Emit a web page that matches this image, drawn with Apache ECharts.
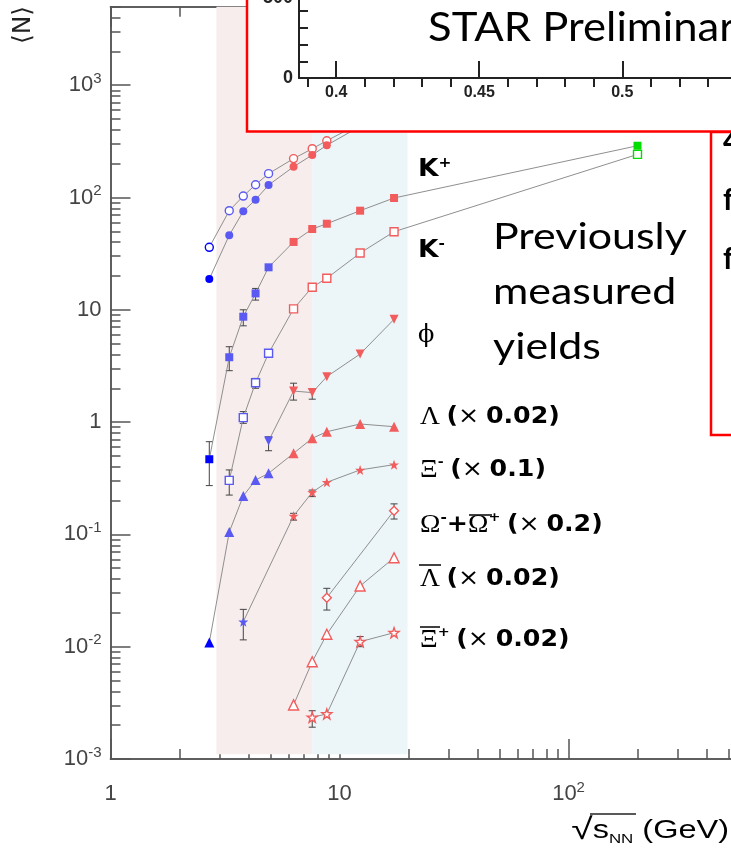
<!DOCTYPE html>
<html>
<head>
<meta charset="utf-8">
<script src="https://cdn.jsdelivr.net/npm/echarts@6/dist/echarts.min.js"></script>
<style>html,body{margin:0;padding:0;background:#fff}#c{width:731px;height:858px}</style>
</head>
<body>
<div id="c"></div>
<script>
// ---------------- data ----------------
const energies = [2.7, 3.3, 3.8, 4.3, 4.9, 6.3, 7.6, 8.8, 12.3, 17.3, 200];
const pointGroup = [0, 1, 1, 1, 1, 2, 2, 2, 2, 2, 3]; // AGS-low, AGS, SPS, RHIC
const piOpen    = [36.0, 76.3, 103, 130, 163, 222, 272, 320, 460, 620, null];
const piFilled  = [18.8, 46.1, 75.4, 95.6, 129, 188, 239, 292, 430, 580, null];
const kPlus     = [0.467, 3.78, 8.68, 14.0, 23.9, 40.2, 52.4, 58.4, 76.3, 99, 289];
const kMinus    = [null, 0.303, 1.095, 2.24, 4.10, 10.2, 15.9, 19.1, 32.0, 49.6, 242];
const phi       = [null, null, null, null, 0.679, 1.89, 1.83, 2.54, 4.04, 8.23, null];
const lambda    = [0.0109, 0.105, 0.22, 0.305, 0.35, 0.527, 0.717, 0.821, 0.962, 0.91, null];
const xiMinus   = [null, null, 0.0167, null, null, 0.146, 0.237, 0.291, 0.375, 0.418, null];
const omega     = [null, null, null, null, null, null, null, 0.0273, null, 0.1626, null];
const lambdaBar = [null, null, null, null, null, 0.00303, 0.00735, 0.0129, 0.0347, 0.062, null];
const xiBarPlus = [null, null, null, null, null, null, 0.00235, 0.00252, 0.01108, 0.01333, null];

// error bars: energy, low, high
const errEnergy = [2.7, 3.3, 3.8, 4.3, 3.3, 3.8, 4.3, 4.9, 6.3, 7.6, 3.8, 6.3, 7.6, 8.8, 17.3, 7.6, 12.3];
const errLow    = [0.272, 2.87, 7.2, 12.2, 0.224, 0.975, 2.0, 0.556, 1.57, 1.6, 0.0115, 0.134, 0.217, 0.0212, 0.137, 0.00192, 0.0100];
const errHigh   = [0.669, 4.69, 10.0, 15.5, 0.375, 1.24, 2.45, 0.741, 2.22, 1.96, 0.0215, 0.154, 0.248, 0.0331, 0.187, 0.00269, 0.0123];

// shaded energy bands
const bandEdges = [2.9, 7.6, 19.8];
const bandYRange = [0.0011, 5000];

// tick values
const xTickMajor = [1, 10, 100];
const xTickMinor = [2, 3, 4, 5, 6, 7, 8, 9, 20, 30, 40, 50, 60, 70, 80, 90, 200, 300, 400, 500];
const yTickMajor = [0.001, 0.01, 0.1, 1, 10, 100, 1000];
const yTickMinor = [];
[0.001, 0.01, 0.1, 1, 10, 100, 1000].forEach(d => { for (let k = 2; k <= 9; k++) { const v = +(d * k).toPrecision(3); if (v <= 5000) yTickMinor.push(v); } });

// inset (STAR preliminary panel)
const insetXLabels = [0.4, 0.45, 0.5];
const insetXMinor = [0.39, 0.41, 0.42, 0.43, 0.44, 0.46, 0.47, 0.48, 0.49, 0.51, 0.52, 0.53];
const insetYLabels = [0];
const insetYTicks = [100, 200, 300, 400];

// ---------------- chart ----------------
const palette = ['#0000ff', '#5a5af2', '#f25c5c', '#00dd00'];
const axisCol = '#555';
const labelCol = '#444';

function makeSeries(name, vals, symbol, open, size, rotate) {
  const data = [];
  energies.forEach((e, i) => {
    if (vals[i] == null) return;
    const c = palette[pointGroup[i]];
    data.push({
      value: [e, vals[i]],
      itemStyle: open ? { color: '#fff', borderColor: c, borderWidth: 1.4 } : { color: c, borderColor: c, borderWidth: 0 }
    });
  });
  return {
    type: 'line', name, xAxisIndex: 0, yAxisIndex: 0, z: 3,
    symbol, symbolSize: size, symbolRotate: rotate || 0, showAllSymbol: true,
    lineStyle: { color: '#8f8f8f', width: 1 },
    data, silent: true, emphasis: { disabled: true }
  };
}
const star = 'path://M0,-10 L2.35,-3.24 L9.51,-3.09 L3.8,1.24 L5.88,8.09 L0,4 L-5.88,8.09 L-3.8,1.24 L-9.51,-3.09 L-2.35,-3.24 Z';

const supFmt = (v) => {
  const e = Math.round(Math.log10(v));
  if (e === 0) return '{n|1}';
  if (e === 1) return '{n|10}';
  return '{n|10}{sup|' + e + '}';
};
const tickRich = {
  n: { fontSize: 22, fontFamily: 'Liberation Sans', color: labelCol, lineHeight: 28 },
  sup: { fontSize: 15, fontFamily: 'Liberation Sans', color: labelCol, lineHeight: 15, verticalAlign: 'top' }
};

function logX(pos, ticks, len, labels) {
  return {
    type: 'log', gridIndex: 0, position: pos, min: 1, max: 512, logBase: 10,
    axisLine: { show: true, onZero: false, lineStyle: { color: axisCol, width: 1.5 } },
    axisTick: { show: true, inside: true, length: len, customValues: ticks, lineStyle: { color: axisCol, width: 1.5 } },
    axisLabel: labels ? { show: true, customValues: labels, formatter: supFmt, rich: tickRich, margin: 21 } : { show: false },
    splitLine: { show: false }, minorTick: { show: false }
  };
}
function logY(pos, ticks, len, labels) {
  return {
    type: 'log', gridIndex: 0, position: pos, min: 0.001, max: 5000, logBase: 10,
    axisLine: { show: true, onZero: false, lineStyle: { color: axisCol, width: 1.5 } },
    axisTick: { show: true, inside: true, length: len, customValues: ticks, lineStyle: { color: axisCol, width: 1.5 } },
    axisLabel: labels ? { show: true, customValues: labels, formatter: supFmt, rich: tickRich, margin: 9 } : { show: false },
    splitLine: { show: false }, minorTick: { show: false }
  };
}

const insetAxisStyle = { color: '#222', width: 2 };
const xAxes = [
  logX('bottom', xTickMajor, 20, xTickMajor),
  logX('bottom', xTickMinor, 10, null),
  logX('top', xTickMajor, 20, null),
  logX('top', xTickMinor, 10, null),
  { type: 'value', gridIndex: 1, min: 0.387, max: 0.538, z: 110,
    axisLine: { onZero: false, lineStyle: insetAxisStyle },
    axisTick: { inside: true, length: 17, customValues: insetXLabels, lineStyle: insetAxisStyle },
    axisLabel: { customValues: insetXLabels, fontFamily: 'Liberation Sans', fontWeight: 'bold', fontSize: 16, color: '#222', margin: 7 },
    splitLine: { show: false } },
  { type: 'value', gridIndex: 1, min: 0.387, max: 0.538, z: 110,
    axisLine: { show: false },
    axisTick: { inside: true, length: 9, customValues: insetXMinor, lineStyle: insetAxisStyle },
    axisLabel: { show: false }, splitLine: { show: false } }
];
const yAxes = [
  logY('left', yTickMajor, 20, yTickMajor),
  logY('left', yTickMinor, 10, null),
  { type: 'value', gridIndex: 1, min: 0, max: 467, z: 110,
    axisLine: { onZero: false, lineStyle: insetAxisStyle },
    axisTick: { inside: true, length: 9, customValues: insetYTicks, lineStyle: insetAxisStyle },
    axisLabel: { customValues: insetYLabels, fontFamily: 'Liberation Sans', fontWeight: 'bold', fontSize: 18, color: '#222', margin: 6 },
    splitLine: { show: false } }
];

const bandData = [
  [bandEdges[0], bandEdges[1], bandYRange[0], bandYRange[1], 0],
  [bandEdges[1], bandEdges[2], bandYRange[0], bandYRange[1], 1]
];
const bandColors = ['#f7eded', '#ecf5f8'];

const errData = errEnergy.map((e, i) => [e, errLow[i], errHigh[i]]);

const series = [
  { type: 'custom', xAxisIndex: 0, yAxisIndex: 0, z: 1, silent: true, data: bandData,
    encode: { x: [0, 1], y: [2, 3] },
    renderItem: (params, api) => {
      const p0 = api.coord([api.value(0), api.value(3)]);
      const p1 = api.coord([api.value(1), api.value(2)]);
      return { type: 'rect', shape: { x: p0[0], y: p0[1], width: p1[0] - p0[0], height: p1[1] - p0[1] },
        style: { fill: bandColors[api.value(4)] } };
    } },
  { type: 'custom', xAxisIndex: 0, yAxisIndex: 0, z: 2, silent: true, data: errData,
    encode: { x: 0, y: [1, 2] },
    renderItem: (params, api) => {
      const a = api.coord([api.value(0), api.value(1)]);
      const b = api.coord([api.value(0), api.value(2)]);
      const w = 3.5, st = { stroke: '#444', lineWidth: 1 };
      return { type: 'group', children: [
        { type: 'line', shape: { x1: a[0], y1: a[1], x2: b[0], y2: b[1] }, style: st },
        { type: 'line', shape: { x1: a[0] - w, y1: a[1], x2: a[0] + w, y2: a[1] }, style: st },
        { type: 'line', shape: { x1: b[0] - w, y1: b[1], x2: b[0] + w, y2: b[1] }, style: st }
      ] };
    } },
  makeSeries('pi_open', piOpen, 'circle', true, 8),
  makeSeries('pi_filled', piFilled, 'circle', false, 8),
  makeSeries('K+', kPlus, 'rect', false, 8),
  makeSeries('K-', kMinus, 'rect', true, 8),
  makeSeries('phi', phi, 'triangle', false, 9, 180),
  makeSeries('Lambda', lambda, 'triangle', false, 10),
  makeSeries('Xi-', xiMinus, star, false, 10),
  makeSeries('Omega', omega, 'diamond', true, 9),
  makeSeries('LambdaBar', lambdaBar, 'triangle', true, 10),
  makeSeries('XiBar+', xiBarPlus, star, true, 10)
];

// label styles
const R = {
  b: { fontFamily: 'DejaVu Sans', fontWeight: 'bold', fontSize: 24, color: '#111' },
  bs: { fontFamily: 'DejaVu Sans', fontWeight: 'bold', fontSize: 14, color: '#111', verticalAlign: 'top', lineHeight: 14 },
  g: { fontFamily: 'Liberation Serif', fontSize: 25, color: '#222', padding: [0, 6, 0, 0] },
  g0: { fontFamily: 'Liberation Serif', fontSize: 25, color: '#222' },
  ph: { fontFamily: 'DejaVu Serif', fontSize: 24, color: '#222' },
  gs: { fontFamily: 'DejaVu Sans', fontWeight: 'bold', fontSize: 13, color: '#111', verticalAlign: 'top', lineHeight: 13, padding: [0, 6, 0, 0] },
  d: { fontFamily: 'DejaVu Sans', fontWeight: 'bold', fontSize: 23, color: '#111' },
  m: { fontFamily: 'DejaVu Sans', fontSize: 23, color: '#111', padding: [0, 6, 0, 0] }
};
function lab(text, x, y, sx) {
  return { type: 'text', x, y, z: 50, silent: true, scaleX: sx || 1.1,
    style: { text, rich: R, textVerticalAlign: 'middle', textAlign: 'left', lineHeight: 28 } };
}
function seg(x1, y1, x2, y2, w, col, z) {
  return { type: 'line', z: z || 50, silent: true, shape: { x1, y1, x2, y2 }, style: { stroke: col || '#111', lineWidth: w || 1.6 } };
}

const graphics = [
  // y-axis title
  { type: 'text', x: 23, y: 25, rotation: Math.PI / 2, z: 50, silent: true,
    style: { text: '⟨N⟩', font: '25px "DejaVu Sans"', fill: '#222', textAlign: 'center', textVerticalAlign: 'middle' } },
  // x-axis title
  { type: 'text', x: 729, y: 831, z: 50, silent: true, scaleX: 1.3,
    style: { text: '{r|√}{s|s}{sub|NN}{t| (GeV)}', textAlign: 'right', textVerticalAlign: 'middle',
      rich: {
        r: { fontFamily: 'Liberation Sans', fontSize: 30, color: '#222' },
        s: { fontFamily: 'Liberation Sans', fontSize: 25, color: '#222' },
        sub: { fontFamily: 'Liberation Sans', fontSize: 13, color: '#222', verticalAlign: 'bottom', lineHeight: 13 },
        t: { fontFamily: 'Liberation Sans', fontSize: 25, color: '#222' }
      } } },
  seg(590, 814, 636, 814, 1.6, '#222'),
  // species labels
  lab('{b|K}{bs|+}', 418, 170),
  lab('{b|K}{bs|-}', 418, 251),
  lab('{ph|ϕ}', 418, 336, 1),
  lab('{g|Λ}{d|(}{m|×}{d|0.02)}', 420, 417),
  lab('{g0|Ξ}{gs|-}{d|(}{m|×}{d|0.1)}', 420, 470),
  lab('{g0|Ω}{bs|-}{d|+}{g0|Ω}{gs|+}{d|(}{m|×}{d|0.2)}', 420, 525),
  lab('{g|Λ}{d|(}{m|×}{d|0.02)}', 420, 579),
  lab('{g0|Ξ}{gs|+}{d|(}{m|×}{d|0.02)}', 420, 640),
  seg(419, 565, 441, 565),
  seg(420, 627, 440, 627),
  seg(469, 515, 492, 515),
  // annotation
  { type: 'text', x: 493, y: 210, z: 50, silent: true, scaleX: 1.16,
    style: { text: 'Previously\nmeasured\nyields', font: '37px Lato', fill: '#000', lineHeight: 55, textAlign: 'left', textVerticalAlign: 'top' } },
  // right partial box
  { type: 'rect', z: 100, silent: true, shape: { x: 711, y: 132, width: 40, height: 303 },
    style: { fill: '#fff', stroke: '#ff0000', lineWidth: 2.5 } },
  { type: 'text', x: 723, y: 141, z: 101, silent: true, style: { text: '4', font: 'bold 30px Lato', fill: '#000', textVerticalAlign: 'middle' } },
  { type: 'text', x: 723, y: 200, z: 101, silent: true, style: { text: 'f', font: 'bold 30px Lato', fill: '#000', textVerticalAlign: 'middle' } },
  { type: 'text', x: 723, y: 259, z: 101, silent: true, style: { text: 'f', font: 'bold 30px Lato', fill: '#000', textVerticalAlign: 'middle' } },
  // top inset box
  { type: 'rect', z: 102, silent: true, shape: { x: 247, y: -5, width: 520, height: 136.5 },
    style: { fill: '#fff', stroke: '#ff0000', lineWidth: 2.5 } },
  { type: 'text', x: 293, y: -2, z: 120, silent: true,
    style: { text: '500', font: 'bold 18px "Liberation Sans"', fill: '#222', textAlign: 'right', textVerticalAlign: 'middle' } },
  { type: 'text', x: 428, y: 28, z: 120, silent: true, scaleX: 1.09,
    style: { text: 'STAR Preliminary', font: '40px Lato', fill: '#000', textVerticalAlign: 'middle' } }
];

const chart = echarts.init(document.getElementById('c'), null, { renderer: 'canvas' });
chart.setOption({
  animation: false,
  backgroundColor: '#fff',
  grid: [
    { left: 110.5, right: 0, top: 6.7, bottom: 99 },
    { left: 299, right: 0, top: 0, bottom: 780 }
  ],
  xAxis: xAxes,
  yAxis: yAxes,
  series,
  graphic: { elements: graphics }
});
</script>
</body>
</html>
